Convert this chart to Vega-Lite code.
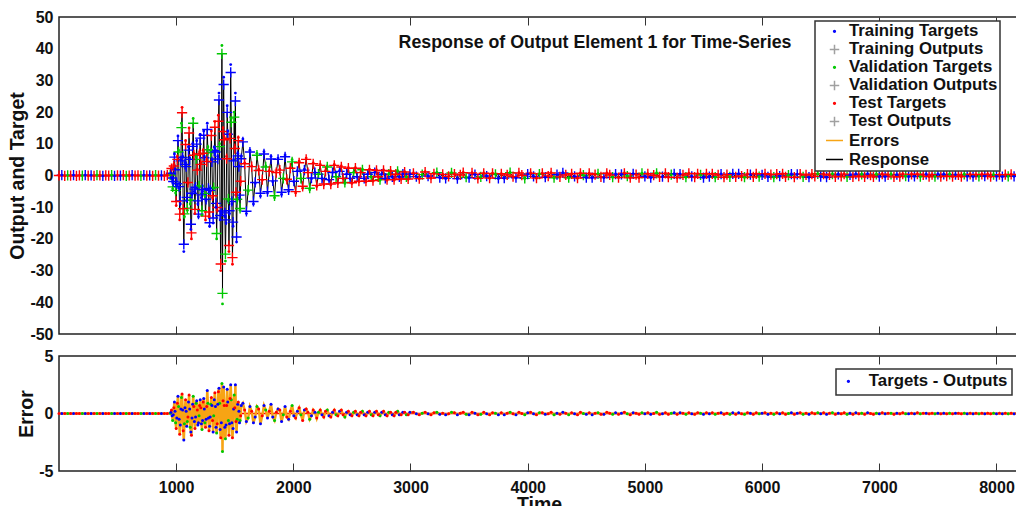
{
"$schema": "https://vega.github.io/schema/vega-lite/v6.json",
"padding": {"left": 7, "top": 8, "right": 0, "bottom": 0},
"background": "white",
"config": {
  "font": "Liberation Sans",
  "view": {"stroke": "#222222", "strokeWidth": 1.5},
  "axis": {"labelFont": "Liberation Sans", "labelFontWeight": "bold", "labelFontSize": 16, "labelColor": "#111111", "titleFont": "Liberation Sans", "titleFontWeight": "bold", "titleFontSize": 19.5, "titleColor": "#111111", "grid": false, "domain": false, "tickColor": "#333333", "labelOverlap": false, "labelExpr": "'' + datum.value"},
  "axisY": {"labelOverlap": false},
  "axisLeft": {"labelOverlap": false},
  "legend": {"labelFont": "Liberation Sans", "labelFontWeight": "bold", "labelFontSize": 16.8, "labelColor": "#111111", "strokeColor": "#333333", "strokeWidth": 1.5, "fillColor": "white", "symbolOpacity": 1, "symbolStrokeWidth": 1.5, "labelLimit": 400},
  "concat": {"spacing": 4}
},
"datasets": {
"leg1": [{"label":"Training Targets"},{"label":"Training Outputs"},{"label":"Validation Targets"},{"label":"Validation Outputs"},{"label":"Test Targets"},{"label":"Test Outputs"},{"label":"Errors"},{"label":"Response"}],
"leg2": [{"label":"Targets - Outputs"}],
"ts": [
{"t":1,"y":0,"o":0,"e":0,"s":"Test"},
{"t":25,"y":0.1,"o":0.09,"e":0.01,"s":"Training"},
{"t":50,"y":-0.1,"o":-0.09,"e":-0.01,"s":"Test"},
{"t":75,"y":0.05,"o":0.04,"e":0.01,"s":"Validation"},
{"t":100,"y":-0.05,"o":-0.04,"e":-0.01,"s":"Test"},
{"t":125,"y":0.1,"o":0.09,"e":0.01,"s":"Training"},
{"t":150,"y":-0.1,"o":-0.09,"e":-0.01,"s":"Test"},
{"t":175,"y":0.05,"o":0.04,"e":0.01,"s":"Test"},
{"t":200,"y":-0.05,"o":-0.04,"e":-0.01,"s":"Validation"},
{"t":225,"y":0.1,"o":0.09,"e":0.01,"s":"Training"},
{"t":250,"y":-0.05,"o":-0.04,"e":-0.01,"s":"Test"},
{"t":275,"y":0.05,"o":0.04,"e":0.01,"s":"Training"},
{"t":300,"y":-0.1,"o":-0.09,"e":-0.01,"s":"Test"},
{"t":325,"y":0.1,"o":0.09,"e":0.01,"s":"Validation"},
{"t":350,"y":0,"o":0,"e":0,"s":"Test"},
{"t":375,"y":-0.1,"o":-0.09,"e":-0.01,"s":"Training"},
{"t":400,"y":0.05,"o":0.04,"e":0.01,"s":"Test"},
{"t":425,"y":-0.05,"o":-0.04,"e":-0.01,"s":"Test"},
{"t":450,"y":0.1,"o":0.09,"e":0.01,"s":"Validation"},
{"t":475,"y":-0.1,"o":-0.09,"e":-0.01,"s":"Training"},
{"t":500,"y":0.05,"o":0.04,"e":0.01,"s":"Test"},
{"t":525,"y":-0.05,"o":-0.04,"e":-0.01,"s":"Training"},
{"t":550,"y":0.1,"o":0.09,"e":0.01,"s":"Test"},
{"t":575,"y":-0.1,"o":-0.09,"e":-0.01,"s":"Validation"},
{"t":600,"y":0,"o":0,"e":0,"s":"Test"},
{"t":625,"y":0.1,"o":0.09,"e":0.01,"s":"Training"},
{"t":650,"y":-0.05,"o":-0.04,"e":-0.01,"s":"Test"},
{"t":675,"y":0.05,"o":0.04,"e":0.01,"s":"Test"},
{"t":700,"y":-0.1,"o":-0.09,"e":-0.01,"s":"Validation"},
{"t":725,"y":0.1,"o":0.09,"e":0.01,"s":"Training"},
{"t":750,"y":-0.05,"o":-0.04,"e":-0.01,"s":"Test"},
{"t":775,"y":0.05,"o":0.04,"e":0.01,"s":"Training"},
{"t":800,"y":-0.1,"o":-0.09,"e":-0.01,"s":"Test"},
{"t":825,"y":0.1,"o":0.09,"e":0.01,"s":"Validation"},
{"t":850,"y":-0.05,"o":-0.04,"e":-0.01,"s":"Test"},
{"t":875,"y":0.05,"o":0.04,"e":0.01,"s":"Training"},
{"t":900,"y":-0.1,"o":-0.09,"e":-0.01,"s":"Test"},
{"t":925,"y":0.1,"o":0.09,"e":0.01,"s":"Test"},
{"t":950,"y":0.2,"o":0.17,"e":0.03,"s":"Validation"},
{"t":956,"y":0.8,"o":0.7,"e":0.1,"s":"Training"},
{"t":961,"y":2.5,"o":2.2,"e":0.3,"s":"Test"},
{"t":966,"y":-1.0,"o":-0.8,"e":-0.2,"s":"Training"},
{"t":971,"y":-4.2,"o":-3.6,"e":-0.6,"s":"Validation"},
{"t":976,"y":-2.0,"o":-1.9,"e":-0.1,"s":"Training"},
{"t":981,"y":3.5,"o":3.0,"e":0.5,"s":"Test"},
{"t":986,"y":6.8,"o":5.8,"e":1.0,"s":"Training"},
{"t":991,"y":2.0,"o":1.8,"e":0.2,"s":"Training"},
{"t":996,"y":-5.5,"o":-4.7,"e":-0.8,"s":"Validation"},
{"t":1001,"y":-9.5,"o":-8.2,"e":-1.3,"s":"Test"},
{"t":1006,"y":-3.0,"o":-2.6,"e":-0.4,"s":"Training"},
{"t":1011,"y":6.0,"o":5.1,"e":0.9,"s":"Test"},
{"t":1016,"y":12.5,"o":11.0,"e":1.5,"s":"Training"},
{"t":1021,"y":8.0,"o":7.4,"e":0.6,"s":"Validation"},
{"t":1026,"y":-4.0,"o":-3.5,"e":-0.5,"s":"Training"},
{"t":1031,"y":-14.0,"o":-12.2,"e":-1.8,"s":"Test"},
{"t":1036,"y":-9.0,"o":-8.0,"e":-1.0,"s":"Training"},
{"t":1041,"y":5.0,"o":4.6,"e":0.4,"s":"Training"},
{"t":1046,"y":16.5,"o":15.1,"e":1.4,"s":"Validation"},
{"t":1051,"y":21.5,"o":19.8,"e":1.7,"s":"Test"},
{"t":1056,"y":6.0,"o":5.7,"e":0.3,"s":"Training"},
{"t":1061,"y":-12.0,"o":-10.5,"e":-1.5,"s":"Test"},
{"t":1066,"y":-24.0,"o":-21.7,"e":-2.3,"s":"Training"},
{"t":1071,"y":-13.0,"o":-12.1,"e":-0.9,"s":"Validation"},
{"t":1076,"y":4.0,"o":3.5,"e":0.5,"s":"Training"},
{"t":1081,"y":11.0,"o":9.8,"e":1.2,"s":"Test"},
{"t":1086,"y":3.0,"o":2.8,"e":0.2,"s":"Training"},
{"t":1091,"y":-8.0,"o":-6.9,"e":-1.1,"s":"Training"},
{"t":1096,"y":-11.0,"o":-10.3,"e":-0.7,"s":"Validation"},
{"t":1101,"y":-2.5,"o":-2.2,"e":-0.3,"s":"Test"},
{"t":1106,"y":9.0,"o":8.0,"e":1.0,"s":"Training"},
{"t":1111,"y":15.0,"o":13.4,"e":1.6,"s":"Test"},
{"t":1116,"y":5.5,"o":5.1,"e":0.4,"s":"Training"},
{"t":1121,"y":-9.0,"o":-7.8,"e":-1.2,"s":"Validation"},
{"t":1126,"y":-17.0,"o":-15.4,"e":-1.6,"s":"Training"},
{"t":1131,"y":-20.0,"o":-18.1,"e":-1.9,"s":"Test"},
{"t":1136,"y":-6.0,"o":-5.6,"e":-0.4,"s":"Training"},
{"t":1141,"y":10.0,"o":9.2,"e":0.8,"s":"Training"},
{"t":1146,"y":18.0,"o":16.5,"e":1.5,"s":"Validation"},
{"t":1151,"y":7.0,"o":6.4,"e":0.6,"s":"Test"},
{"t":1156,"y":-5.0,"o":-4.3,"e":-0.7,"s":"Training"},
{"t":1161,"y":-12.0,"o":-10.7,"e":-1.3,"s":"Test"},
{"t":1166,"y":-4.0,"o":-3.7,"e":-0.3,"s":"Training"},
{"t":1171,"y":6.0,"o":5.1,"e":0.9,"s":"Validation"},
{"t":1176,"y":11.0,"o":9.9,"e":1.1,"s":"Training"},
{"t":1181,"y":2.0,"o":1.7,"e":0.3,"s":"Test"},
{"t":1186,"y":-9.0,"o":-8.0,"e":-1.0,"s":"Training"},
{"t":1191,"y":-13.0,"o":-12.2,"e":-0.8,"s":"Training"},
{"t":1196,"y":-3.5,"o":-3.3,"e":-0.2,"s":"Validation"},
{"t":1201,"y":7.5,"o":6.8,"e":0.7,"s":"Test"},
{"t":1206,"y":13.0,"o":11.8,"e":1.2,"s":"Training"},
{"t":1211,"y":4.0,"o":3.5,"e":0.5,"s":"Test"},
{"t":1216,"y":-7.0,"o":-6.1,"e":-0.9,"s":"Training"},
{"t":1221,"y":-12.5,"o":-11.1,"e":-1.4,"s":"Validation"},
{"t":1226,"y":-5.0,"o":-4.4,"e":-0.6,"s":"Training"},
{"t":1231,"y":8.0,"o":7.0,"e":1.0,"s":"Test"},
{"t":1236,"y":14.0,"o":12.7,"e":1.3,"s":"Training"},
{"t":1241,"y":6.0,"o":5.6,"e":0.4,"s":"Training"},
{"t":1246,"y":-6.5,"o":-5.7,"e":-0.8,"s":"Validation"},
{"t":1251,"y":-14.0,"o":-12.8,"e":-1.2,"s":"Test"},
{"t":1256,"y":-8.0,"o":-7.5,"e":-0.5,"s":"Training"},
{"t":1261,"y":5.0,"o":4.4,"e":0.6,"s":"Test"},
{"t":1266,"y":16.5,"o":14.5,"e":2.0,"s":"Training"},
{"t":1271,"y":9.0,"o":8.1,"e":0.9,"s":"Validation"},
{"t":1276,"y":-4.5,"o":-4.1,"e":-0.4,"s":"Training"},
{"t":1281,"y":-13.0,"o":-11.5,"e":-1.5,"s":"Test"},
{"t":1286,"y":-16.0,"o":-14.9,"e":-1.1,"s":"Training"},
{"t":1291,"y":-5.0,"o":-4.7,"e":-0.3,"s":"Training"},
{"t":1296,"y":8.0,"o":7.2,"e":0.8,"s":"Validation"},
{"t":1301,"y":14.0,"o":12.6,"e":1.4,"s":"Test"},
{"t":1306,"y":5.0,"o":4.3,"e":0.7,"s":"Training"},
{"t":1311,"y":-7.0,"o":-6.4,"e":-0.6,"s":"Test"},
{"t":1316,"y":-15.0,"o":-13.4,"e":-1.6,"s":"Training"},
{"t":1321,"y":-4.0,"o":-3.8,"e":-0.2,"s":"Validation"},
{"t":1326,"y":9.0,"o":7.8,"e":1.2,"s":"Training"},
{"t":1331,"y":17.0,"o":15.2,"e":1.8,"s":"Test"},
{"t":1336,"y":8.0,"o":7.4,"e":0.6,"s":"Training"},
{"t":1341,"y":-10.0,"o":-8.8,"e":-1.2,"s":"Training"},
{"t":1346,"y":-20.0,"o":-18.3,"e":-1.7,"s":"Validation"},
{"t":1351,"y":-11.0,"o":-10.1,"e":-0.9,"s":"Test"},
{"t":1356,"y":6.0,"o":5.2,"e":0.8,"s":"Training"},
{"t":1361,"y":19.0,"o":17.1,"e":1.9,"s":"Test"},
{"t":1366,"y":26.0,"o":23.8,"e":2.2,"s":"Training"},
{"t":1371,"y":10.0,"o":9.1,"e":0.9,"s":"Validation"},
{"t":1376,"y":-14.0,"o":-12.6,"e":-1.4,"s":"Training"},
{"t":1381,"y":-30.0,"o":-27.9,"e":-2.1,"s":"Test"},
{"t":1386,"y":-12.0,"o":-11.2,"e":-0.8,"s":"Training"},
{"t":1391,"y":41.0,"o":38.4,"e":2.6,"s":"Validation"},
{"t":1396,"y":-40.5,"o":-37.2,"e":-3.3,"s":"Validation"},
{"t":1401,"y":15.0,"o":13.9,"e":1.1,"s":"Test"},
{"t":1406,"y":31.0,"o":28.7,"e":2.3,"s":"Training"},
{"t":1411,"y":12.0,"o":11.3,"e":0.7,"s":"Test"},
{"t":1416,"y":-13.0,"o":-11.8,"e":-1.2,"s":"Training"},
{"t":1421,"y":-27.0,"o":-24.8,"e":-2.2,"s":"Validation"},
{"t":1426,"y":-15.0,"o":-14.0,"e":-1.0,"s":"Training"},
{"t":1431,"y":6.0,"o":5.3,"e":0.7,"s":"Test"},
{"t":1436,"y":22.0,"o":19.9,"e":2.1,"s":"Training"},
{"t":1441,"y":14.0,"o":13.0,"e":1.0,"s":"Training"},
{"t":1446,"y":-8.0,"o":-7.4,"e":-0.6,"s":"Validation"},
{"t":1451,"y":-24.0,"o":-22.1,"e":-1.9,"s":"Test"},
{"t":1456,"y":-12.0,"o":-11.1,"e":-0.9,"s":"Training"},
{"t":1461,"y":13.0,"o":11.7,"e":1.3,"s":"Test"},
{"t":1466,"y":35.0,"o":32.5,"e":2.5,"s":"Training"},
{"t":1471,"y":18.0,"o":16.8,"e":1.2,"s":"Validation"},
{"t":1476,"y":-9.0,"o":-8.2,"e":-0.8,"s":"Training"},
{"t":1481,"y":-28.0,"o":-25.9,"e":-2.1,"s":"Test"},
{"t":1486,"y":-16.0,"o":-14.7,"e":-1.3,"s":"Training"},
{"t":1491,"y":5.0,"o":4.6,"e":0.4,"s":"Training"},
{"t":1496,"y":20.0,"o":18.4,"e":1.6,"s":"Validation"},
{"t":1501,"y":9.0,"o":8.5,"e":0.5,"s":"Test"},
{"t":1506,"y":26.0,"o":23.5,"e":2.5,"s":"Training"},
{"t":1511,"y":-6.0,"o":-5.3,"e":-0.7,"s":"Test"},
{"t":1516,"y":-21.0,"o":-19.4,"e":-1.6,"s":"Training"},
{"t":1521,"y":-8.0,"o":-7.5,"e":-0.5,"s":"Validation"},
{"t":1526,"y":7.0,"o":6.2,"e":0.8,"s":"Training"},
{"t":1531,"y":12.0,"o":11.0,"e":1.0,"s":"Test"},
{"t":1536,"y":3.0,"o":2.8,"e":0.2,"s":"Training"},
{"t":1541,"y":-7.0,"o":-6.2,"e":-0.8,"s":"Training"},
{"t":1546,"y":-11.0,"o":-10.4,"e":-0.6,"s":"Validation"},
{"t":1551,"y":-2.0,"o":-1.8,"e":-0.2,"s":"Test"},
{"t":1556,"y":6.0,"o":5.3,"e":0.7,"s":"Training"},
{"t":1570,"y":11.5,"o":10.6,"e":0.9,"s":"Training"},
{"t":1585,"y":4.0,"o":3.7,"e":0.3,"s":"Test"},
{"t":1600,"y":-12.0,"o":-11.3,"e":-0.7,"s":"Training"},
{"t":1615,"y":-5.0,"o":-4.6,"e":-0.4,"s":"Validation"},
{"t":1630,"y":8.0,"o":7.4,"e":0.6,"s":"Training"},
{"t":1645,"y":3.0,"o":2.8,"e":0.2,"s":"Test"},
{"t":1660,"y":-9.0,"o":-8.2,"e":-0.8,"s":"Training"},
{"t":1675,"y":-2.5,"o":-2.2,"e":-0.3,"s":"Training"},
{"t":1690,"y":7.0,"o":6.4,"e":0.6,"s":"Validation"},
{"t":1705,"y":2.0,"o":1.6,"e":0.4,"s":"Test"},
{"t":1720,"y":-6.5,"o":-5.6,"e":-0.9,"s":"Training"},
{"t":1735,"y":-1.5,"o":-1.3,"e":-0.2,"s":"Test"},
{"t":1750,"y":7.5,"o":6.8,"e":0.7,"s":"Training"},
{"t":1765,"y":3.0,"o":2.7,"e":0.3,"s":"Validation"},
{"t":1780,"y":-5.5,"o":-5.1,"e":-0.4,"s":"Training"},
{"t":1795,"y":1.5,"o":1.3,"e":0.2,"s":"Test"},
{"t":1810,"y":6.0,"o":5.2,"e":0.8,"s":"Training"},
{"t":1825,"y":-2.0,"o":-1.7,"e":-0.3,"s":"Training"},
{"t":1840,"y":-7.0,"o":-6.4,"e":-0.6,"s":"Validation"},
{"t":1855,"y":1.0,"o":0.9,"e":0.1,"s":"Test"},
{"t":1870,"y":5.5,"o":5.1,"e":0.4,"s":"Training"},
{"t":1885,"y":2.0,"o":1.7,"e":0.3,"s":"Test"},
{"t":1900,"y":-6.0,"o":-5.3,"e":-0.7,"s":"Training"},
{"t":1915,"y":-1.0,"o":-0.9,"e":-0.1,"s":"Validation"},
{"t":1930,"y":6.5,"o":5.9,"e":0.6,"s":"Training"},
{"t":1945,"y":-1.5,"o":-1.2,"e":-0.3,"s":"Test"},
{"t":1960,"y":-5.0,"o":-4.5,"e":-0.5,"s":"Training"},
{"t":1975,"y":2.5,"o":2.3,"e":0.2,"s":"Test"},
{"t":1990,"y":5.0,"o":4.3,"e":0.7,"s":"Validation"},
{"t":2005,"y":-2.0,"o":-1.8,"e":-0.2,"s":"Training"},
{"t":2020,"y":-5.5,"o":-5.1,"e":-0.4,"s":"Test"},
{"t":2035,"y":1.5,"o":1.3,"e":0.2,"s":"Training"},
{"t":2050,"y":4.5,"o":4.0,"e":0.5,"s":"Test"},
{"t":2065,"y":-1.0,"o":-0.9,"e":-0.1,"s":"Validation"},
{"t":2080,"y":-4.0,"o":-3.4,"e":-0.6,"s":"Test"},
{"t":2095,"y":2.0,"o":1.7,"e":0.3,"s":"Training"},
{"t":2110,"y":5.5,"o":5.1,"e":0.4,"s":"Test"},
{"t":2125,"y":1.0,"o":0.9,"e":0.1,"s":"Test"},
{"t":2140,"y":-4.5,"o":-4.0,"e":-0.5,"s":"Validation"},
{"t":2155,"y":-1.0,"o":-0.8,"e":-0.2,"s":"Training"},
{"t":2170,"y":4.0,"o":3.7,"e":0.3,"s":"Test"},
{"t":2185,"y":1.0,"o":0.9,"e":0.1,"s":"Training"},
{"t":2200,"y":-3.5,"o":-3.1,"e":-0.4,"s":"Test"},
{"t":2215,"y":0.5,"o":0.4,"e":0.1,"s":"Validation"},
{"t":2230,"y":3.5,"o":3.2,"e":0.3,"s":"Test"},
{"t":2245,"y":-1.0,"o":-0.9,"e":-0.1,"s":"Training"},
{"t":2260,"y":-3.0,"o":-2.7,"e":-0.3,"s":"Test"},
{"t":2275,"y":1.5,"o":1.3,"e":0.2,"s":"Test"},
{"t":2290,"y":3.0,"o":2.7,"e":0.3,"s":"Validation"},
{"t":2305,"y":-1.5,"o":-1.3,"e":-0.2,"s":"Training"},
{"t":2320,"y":-3.0,"o":-2.7,"e":-0.3,"s":"Test"},
{"t":2335,"y":1.0,"o":0.9,"e":0.1,"s":"Training"},
{"t":2350,"y":3.5,"o":3.2,"e":0.3,"s":"Test"},
{"t":2365,"y":-0.5,"o":-0.4,"e":-0.1,"s":"Validation"},
{"t":2380,"y":-2.5,"o":-2.3,"e":-0.2,"s":"Test"},
{"t":2395,"y":1.5,"o":1.3,"e":0.2,"s":"Training"},
{"t":2410,"y":3.0,"o":2.7,"e":0.3,"s":"Test"},
{"t":2425,"y":-1.0,"o":-0.9,"e":-0.1,"s":"Test"},
{"t":2440,"y":-2.5,"o":-2.2,"e":-0.3,"s":"Validation"},
{"t":2455,"y":0.5,"o":0.4,"e":0.1,"s":"Training"},
{"t":2470,"y":2.5,"o":2.3,"e":0.2,"s":"Test"},
{"t":2485,"y":-1.0,"o":-0.9,"e":-0.1,"s":"Training"},
{"t":2500,"y":-2.5,"o":-2.3,"e":-0.2,"s":"Test"},
{"t":2515,"y":1.0,"o":0.9,"e":0.1,"s":"Validation"},
{"t":2530,"y":2.5,"o":2.3,"e":0.2,"s":"Test"},
{"t":2545,"y":-0.5,"o":-0.4,"e":-0.1,"s":"Training"},
{"t":2560,"y":-2.0,"o":-1.8,"e":-0.2,"s":"Test"},
{"t":2575,"y":1.0,"o":0.9,"e":0.1,"s":"Test"},
{"t":2590,"y":2.0,"o":1.8,"e":0.2,"s":"Validation"},
{"t":2605,"y":-1.0,"o":-0.9,"e":-0.1,"s":"Training"},
{"t":2620,"y":-2.0,"o":-1.8,"e":-0.2,"s":"Test"},
{"t":2635,"y":0.5,"o":0.4,"e":0.1,"s":"Training"},
{"t":2650,"y":2.0,"o":1.8,"e":0.2,"s":"Test"},
{"t":2665,"y":-0.5,"o":-0.4,"e":-0.1,"s":"Validation"},
{"t":2680,"y":-1.8,"o":-1.6,"e":-0.2,"s":"Test"},
{"t":2695,"y":1.0,"o":0.9,"e":0.1,"s":"Training"},
{"t":2710,"y":1.8,"o":1.6,"e":0.2,"s":"Test"},
{"t":2725,"y":-0.5,"o":-0.4,"e":-0.1,"s":"Test"},
{"t":2740,"y":-1.5,"o":-1.3,"e":-0.2,"s":"Validation"},
{"t":2755,"y":0.5,"o":0.4,"e":0.1,"s":"Training"},
{"t":2770,"y":1.8,"o":1.6,"e":0.2,"s":"Test"},
{"t":2785,"y":-1.0,"o":-0.9,"e":-0.1,"s":"Training"},
{"t":2800,"y":-1.5,"o":-1.3,"e":-0.2,"s":"Test"},
{"t":2815,"y":0.5,"o":0.4,"e":0.1,"s":"Validation"},
{"t":2830,"y":1.5,"o":1.4,"e":0.1,"s":"Test"},
{"t":2845,"y":-0.5,"o":-0.4,"e":-0.1,"s":"Training"},
{"t":2860,"y":-1.5,"o":-1.3,"e":-0.2,"s":"Test"},
{"t":2875,"y":0.5,"o":0.4,"e":0.1,"s":"Test"},
{"t":2890,"y":1.5,"o":1.3,"e":0.2,"s":"Validation"},
{"t":2905,"y":-0.5,"o":-0.4,"e":-0.1,"s":"Training"},
{"t":2920,"y":-1.2,"o":-1.1,"e":-0.1,"s":"Test"},
{"t":2935,"y":0.5,"o":0.4,"e":0.1,"s":"Training"},
{"t":2950,"y":1.2,"o":1.1,"e":0.1,"s":"Test"},
{"t":2965,"y":-0.5,"o":-0.4,"e":-0.1,"s":"Validation"},
{"t":2980,"y":-1.2,"o":-1.1,"e":-0.1,"s":"Test"},
{"t":2995,"y":0.5,"o":0.4,"e":0.1,"s":"Training"},
{"t":3025,"y":0.8,"o":0.7,"e":0.1,"s":"Test"},
{"t":3050,"y":-0.4,"o":-0.37,"e":-0.03,"s":"Training"},
{"t":3075,"y":-1.1,"o":-1.0,"e":-0.1,"s":"Test"},
{"t":3100,"y":0.3,"o":0.27,"e":0.03,"s":"Validation"},
{"t":3125,"y":1.2,"o":1.1,"e":0.1,"s":"Test"},
{"t":3150,"y":-0.2,"o":-0.17,"e":-0.03,"s":"Training"},
{"t":3175,"y":-0.9,"o":-0.8,"e":-0.1,"s":"Test"},
{"t":3200,"y":0.6,"o":0.54,"e":0.06,"s":"Test"},
{"t":3225,"y":1.0,"o":0.9,"e":0.1,"s":"Validation"},
{"t":3250,"y":-0.7,"o":-0.64,"e":-0.06,"s":"Training"},
{"t":3275,"y":0.4,"o":0.37,"e":0.03,"s":"Test"},
{"t":3300,"y":-1.0,"o":-0.9,"e":-0.1,"s":"Training"},
{"t":3325,"y":-0.3,"o":-0.27,"e":-0.03,"s":"Test"},
{"t":3350,"y":0.9,"o":0.8,"e":0.1,"s":"Validation"},
{"t":3375,"y":0.5,"o":0.44,"e":0.06,"s":"Test"},
{"t":3400,"y":-1.1,"o":-1.0,"e":-0.1,"s":"Training"},
{"t":3425,"y":0.2,"o":0.17,"e":0.03,"s":"Test"},
{"t":3450,"y":1.0,"o":0.9,"e":0.1,"s":"Test"},
{"t":3475,"y":-0.6,"o":-0.54,"e":-0.06,"s":"Validation"},
{"t":3500,"y":-0.8,"o":-0.7,"e":-0.1,"s":"Training"},
{"t":3525,"y":0.9,"o":0.8,"e":0.1,"s":"Test"},
{"t":3550,"y":0.3,"o":0.27,"e":0.03,"s":"Training"},
{"t":3575,"y":-1.0,"o":-0.9,"e":-0.1,"s":"Test"},
{"t":3600,"y":-0.5,"o":-0.44,"e":-0.06,"s":"Validation"},
{"t":3625,"y":0.8,"o":0.7,"e":0.1,"s":"Test"},
{"t":3650,"y":-0.2,"o":-0.17,"e":-0.03,"s":"Training"},
{"t":3675,"y":-0.9,"o":-0.8,"e":-0.1,"s":"Test"},
{"t":3700,"y":0.7,"o":0.64,"e":0.06,"s":"Test"},
{"t":3725,"y":0.4,"o":0.37,"e":0.03,"s":"Validation"},
{"t":3750,"y":-1.0,"o":-0.9,"e":-0.1,"s":"Training"},
{"t":3775,"y":0.6,"o":0.54,"e":0.06,"s":"Test"},
{"t":3800,"y":-0.9,"o":-0.8,"e":-0.1,"s":"Training"},
{"t":3825,"y":0.2,"o":0.17,"e":0.03,"s":"Test"},
{"t":3850,"y":1.0,"o":0.9,"e":0.1,"s":"Validation"},
{"t":3875,"y":-0.4,"o":-0.37,"e":-0.03,"s":"Test"},
{"t":3900,"y":-0.8,"o":-0.7,"e":-0.1,"s":"Training"},
{"t":3925,"y":0.9,"o":0.8,"e":0.1,"s":"Test"},
{"t":3950,"y":0.1,"o":0.09,"e":0.01,"s":"Test"},
{"t":3975,"y":-1.0,"o":-0.9,"e":-0.1,"s":"Validation"},
{"t":4000,"y":0.5,"o":0.44,"e":0.06,"s":"Training"},
{"t":4025,"y":0.8,"o":0.7,"e":0.1,"s":"Test"},
{"t":4050,"y":-0.3,"o":-0.27,"e":-0.03,"s":"Training"},
{"t":4075,"y":-0.9,"o":-0.8,"e":-0.1,"s":"Test"},
{"t":4100,"y":0.5,"o":0.44,"e":0.06,"s":"Validation"},
{"t":4125,"y":0.7,"o":0.64,"e":0.06,"s":"Test"},
{"t":4150,"y":-0.6,"o":-0.54,"e":-0.06,"s":"Training"},
{"t":4175,"y":-0.2,"o":-0.17,"e":-0.03,"s":"Test"},
{"t":4200,"y":0.9,"o":0.8,"e":0.1,"s":"Test"},
{"t":4225,"y":-0.8,"o":-0.7,"e":-0.1,"s":"Validation"},
{"t":4250,"y":0.3,"o":0.27,"e":0.03,"s":"Training"},
{"t":4275,"y":-0.5,"o":-0.44,"e":-0.06,"s":"Test"},
{"t":4300,"y":0.9,"o":0.8,"e":0.1,"s":"Training"},
{"t":4325,"y":0.2,"o":0.17,"e":0.03,"s":"Test"},
{"t":4350,"y":-0.8,"o":-0.7,"e":-0.1,"s":"Validation"},
{"t":4375,"y":0.6,"o":0.54,"e":0.06,"s":"Test"},
{"t":4400,"y":-0.3,"o":-0.27,"e":-0.03,"s":"Training"},
{"t":4425,"y":-0.9,"o":-0.8,"e":-0.1,"s":"Test"},
{"t":4450,"y":0.8,"o":0.7,"e":0.1,"s":"Test"},
{"t":4475,"y":0.1,"o":0.09,"e":0.01,"s":"Validation"},
{"t":4500,"y":-0.7,"o":-0.64,"e":-0.06,"s":"Training"},
{"t":4525,"y":0.7,"o":0.64,"e":0.06,"s":"Test"},
{"t":4550,"y":-0.8,"o":-0.7,"e":-0.1,"s":"Training"},
{"t":4575,"y":0.3,"o":0.27,"e":0.03,"s":"Test"},
{"t":4600,"y":0.6,"o":0.54,"e":0.06,"s":"Validation"},
{"t":4625,"y":-0.5,"o":-0.44,"e":-0.06,"s":"Test"},
{"t":4650,"y":-0.7,"o":-0.64,"e":-0.06,"s":"Training"},
{"t":4675,"y":0.8,"o":0.7,"e":0.1,"s":"Test"},
{"t":4700,"y":0.2,"o":0.17,"e":0.03,"s":"Test"},
{"t":4725,"y":-0.6,"o":-0.54,"e":-0.06,"s":"Validation"},
{"t":4750,"y":0.5,"o":0.44,"e":0.06,"s":"Training"},
{"t":4775,"y":-0.7,"o":-0.64,"e":-0.06,"s":"Test"},
{"t":4800,"y":0.4,"o":0.37,"e":0.03,"s":"Training"},
{"t":4825,"y":0.8,"o":0.7,"e":0.1,"s":"Test"},
{"t":4850,"y":-0.2,"o":-0.17,"e":-0.03,"s":"Validation"},
{"t":4875,"y":-0.8,"o":-0.7,"e":-0.1,"s":"Test"},
{"t":4900,"y":0.6,"o":0.54,"e":0.06,"s":"Training"},
{"t":4925,"y":0.3,"o":0.27,"e":0.03,"s":"Test"},
{"t":4950,"y":-0.7,"o":-0.64,"e":-0.06,"s":"Test"},
{"t":4975,"y":0.7,"o":0.64,"e":0.06,"s":"Validation"},
{"t":5000,"y":-0.3,"o":-0.27,"e":-0.03,"s":"Training"},
{"t":5025,"y":0.6,"o":0.54,"e":0.06,"s":"Test"},
{"t":5050,"y":-0.7,"o":-0.64,"e":-0.06,"s":"Training"},
{"t":5075,"y":0.1,"o":0.09,"e":0.01,"s":"Test"},
{"t":5100,"y":0.8,"o":0.7,"e":0.1,"s":"Validation"},
{"t":5125,"y":-0.5,"o":-0.44,"e":-0.06,"s":"Test"},
{"t":5150,"y":-0.4,"o":-0.37,"e":-0.03,"s":"Training"},
{"t":5175,"y":0.7,"o":0.64,"e":0.06,"s":"Test"},
{"t":5200,"y":-0.6,"o":-0.54,"e":-0.06,"s":"Test"},
{"t":5225,"y":0.3,"o":0.27,"e":0.03,"s":"Validation"},
{"t":5250,"y":0.6,"o":0.54,"e":0.06,"s":"Training"},
{"t":5275,"y":-0.7,"o":-0.64,"e":-0.06,"s":"Test"},
{"t":5300,"y":0.5,"o":0.44,"e":0.06,"s":"Training"},
{"t":5325,"y":0.2,"o":0.17,"e":0.03,"s":"Test"},
{"t":5350,"y":-0.6,"o":-0.54,"e":-0.06,"s":"Validation"},
{"t":5375,"y":0.7,"o":0.64,"e":0.06,"s":"Test"},
{"t":5400,"y":-0.3,"o":-0.27,"e":-0.03,"s":"Training"},
{"t":5425,"y":-0.6,"o":-0.54,"e":-0.06,"s":"Test"},
{"t":5450,"y":0.6,"o":0.54,"e":0.06,"s":"Test"},
{"t":5475,"y":0.2,"o":0.17,"e":0.03,"s":"Validation"},
{"t":5500,"y":-0.7,"o":-0.64,"e":-0.06,"s":"Training"},
{"t":5525,"y":0.6,"o":0.54,"e":0.06,"s":"Test"},
{"t":5550,"y":-0.4,"o":-0.37,"e":-0.03,"s":"Training"},
{"t":5575,"y":0.6,"o":0.54,"e":0.06,"s":"Test"},
{"t":5600,"y":-0.6,"o":-0.54,"e":-0.06,"s":"Validation"},
{"t":5625,"y":0.2,"o":0.17,"e":0.03,"s":"Test"},
{"t":5650,"y":0.5,"o":0.44,"e":0.06,"s":"Training"},
{"t":5675,"y":-0.6,"o":-0.54,"e":-0.06,"s":"Test"},
{"t":5700,"y":0.3,"o":0.27,"e":0.03,"s":"Test"},
{"t":5725,"y":-0.5,"o":-0.44,"e":-0.06,"s":"Validation"},
{"t":5750,"y":0.6,"o":0.54,"e":0.06,"s":"Training"},
{"t":5775,"y":-0.5,"o":-0.44,"e":-0.06,"s":"Test"},
{"t":5800,"y":0.6,"o":0.54,"e":0.06,"s":"Training"},
{"t":5825,"y":-0.2,"o":-0.17,"e":-0.03,"s":"Test"},
{"t":5850,"y":-0.6,"o":-0.54,"e":-0.06,"s":"Validation"},
{"t":5875,"y":0.5,"o":0.44,"e":0.06,"s":"Test"},
{"t":5900,"y":0.3,"o":0.27,"e":0.03,"s":"Training"},
{"t":5925,"y":-0.5,"o":-0.44,"e":-0.06,"s":"Test"},
{"t":5950,"y":0.6,"o":0.54,"e":0.06,"s":"Test"},
{"t":5975,"y":-0.4,"o":-0.37,"e":-0.03,"s":"Validation"},
{"t":6000,"y":0.2,"o":0.17,"e":0.03,"s":"Training"},
{"t":6025,"y":0.6,"o":0.54,"e":0.06,"s":"Test"},
{"t":6050,"y":-0.5,"o":-0.44,"e":-0.06,"s":"Training"},
{"t":6075,"y":0.3,"o":0.27,"e":0.03,"s":"Test"},
{"t":6100,"y":-0.6,"o":-0.54,"e":-0.06,"s":"Validation"},
{"t":6125,"y":0.5,"o":0.44,"e":0.06,"s":"Test"},
{"t":6150,"y":-0.2,"o":-0.17,"e":-0.03,"s":"Training"},
{"t":6175,"y":0.6,"o":0.54,"e":0.06,"s":"Test"},
{"t":6200,"y":-0.5,"o":-0.44,"e":-0.06,"s":"Test"},
{"t":6225,"y":0.1,"o":0.09,"e":0.01,"s":"Validation"},
{"t":6250,"y":0.5,"o":0.44,"e":0.06,"s":"Training"},
{"t":6275,"y":-0.6,"o":-0.54,"e":-0.06,"s":"Test"},
{"t":6300,"y":0.4,"o":0.37,"e":0.03,"s":"Training"},
{"t":6325,"y":0.5,"o":0.44,"e":0.06,"s":"Test"},
{"t":6350,"y":-0.5,"o":-0.44,"e":-0.06,"s":"Validation"},
{"t":6375,"y":0.2,"o":0.17,"e":0.03,"s":"Test"},
{"t":6400,"y":-0.6,"o":-0.54,"e":-0.06,"s":"Training"},
{"t":6425,"y":0.5,"o":0.44,"e":0.06,"s":"Test"},
{"t":6450,"y":-0.3,"o":-0.27,"e":-0.03,"s":"Test"},
{"t":6475,"y":0.6,"o":0.54,"e":0.06,"s":"Validation"},
{"t":6500,"y":-0.4,"o":-0.37,"e":-0.03,"s":"Training"},
{"t":6525,"y":0.5,"o":0.44,"e":0.06,"s":"Test"},
{"t":6550,"y":-0.6,"o":-0.54,"e":-0.06,"s":"Training"},
{"t":6575,"y":0.2,"o":0.17,"e":0.03,"s":"Test"},
{"t":6600,"y":0.5,"o":0.44,"e":0.06,"s":"Validation"},
{"t":6625,"y":-0.5,"o":-0.44,"e":-0.06,"s":"Test"},
{"t":6650,"y":0.4,"o":0.37,"e":0.03,"s":"Training"},
{"t":6675,"y":-0.3,"o":-0.27,"e":-0.03,"s":"Test"},
{"t":6700,"y":0.5,"o":0.44,"e":0.06,"s":"Test"},
{"t":6725,"y":-0.5,"o":-0.44,"e":-0.06,"s":"Validation"},
{"t":6750,"y":0.2,"o":0.17,"e":0.03,"s":"Training"},
{"t":6775,"y":-0.5,"o":-0.44,"e":-0.06,"s":"Test"},
{"t":6800,"y":0.5,"o":0.44,"e":0.06,"s":"Training"},
{"t":6825,"y":-0.2,"o":-0.17,"e":-0.03,"s":"Test"},
{"t":6850,"y":0.4,"o":0.37,"e":0.03,"s":"Validation"},
{"t":6875,"y":-0.5,"o":-0.44,"e":-0.06,"s":"Test"},
{"t":6900,"y":0.5,"o":0.44,"e":0.06,"s":"Training"},
{"t":6925,"y":0.1,"o":0.09,"e":0.01,"s":"Test"},
{"t":6950,"y":-0.5,"o":-0.44,"e":-0.06,"s":"Test"},
{"t":6975,"y":0.4,"o":0.37,"e":0.03,"s":"Validation"},
{"t":7000,"y":-0.4,"o":-0.37,"e":-0.03,"s":"Training"},
{"t":7025,"y":0.5,"o":0.44,"e":0.06,"s":"Test"},
{"t":7050,"y":-0.4,"o":-0.37,"e":-0.03,"s":"Training"},
{"t":7075,"y":0.2,"o":0.17,"e":0.03,"s":"Test"},
{"t":7100,"y":0.4,"o":0.37,"e":0.03,"s":"Validation"},
{"t":7125,"y":-0.5,"o":-0.44,"e":-0.06,"s":"Test"},
{"t":7150,"y":0.3,"o":0.27,"e":0.03,"s":"Training"},
{"t":7175,"y":-0.4,"o":-0.37,"e":-0.03,"s":"Test"},
{"t":7200,"y":0.5,"o":0.44,"e":0.06,"s":"Test"},
{"t":7225,"y":-0.2,"o":-0.17,"e":-0.03,"s":"Validation"},
{"t":7250,"y":-0.4,"o":-0.37,"e":-0.03,"s":"Training"},
{"t":7275,"y":0.4,"o":0.37,"e":0.03,"s":"Test"},
{"t":7300,"y":-0.3,"o":-0.27,"e":-0.03,"s":"Training"},
{"t":7325,"y":0.5,"o":0.44,"e":0.06,"s":"Test"},
{"t":7350,"y":-0.4,"o":-0.37,"e":-0.03,"s":"Validation"},
{"t":7375,"y":0.2,"o":0.17,"e":0.03,"s":"Test"},
{"t":7400,"y":0.4,"o":0.37,"e":0.03,"s":"Training"},
{"t":7425,"y":-0.4,"o":-0.37,"e":-0.03,"s":"Test"},
{"t":7450,"y":0.3,"o":0.27,"e":0.03,"s":"Test"},
{"t":7475,"y":-0.4,"o":-0.37,"e":-0.03,"s":"Validation"},
{"t":7500,"y":0.4,"o":0.37,"e":0.03,"s":"Training"},
{"t":7525,"y":-0.4,"o":-0.37,"e":-0.03,"s":"Test"},
{"t":7550,"y":0.4,"o":0.37,"e":0.03,"s":"Training"},
{"t":7575,"y":-0.2,"o":-0.17,"e":-0.03,"s":"Test"},
{"t":7600,"y":0.4,"o":0.37,"e":0.03,"s":"Validation"},
{"t":7625,"y":-0.4,"o":-0.37,"e":-0.03,"s":"Test"},
{"t":7650,"y":0.3,"o":0.27,"e":0.03,"s":"Training"},
{"t":7675,"y":0.2,"o":0.17,"e":0.03,"s":"Test"},
{"t":7700,"y":-0.4,"o":-0.37,"e":-0.03,"s":"Test"},
{"t":7725,"y":0.4,"o":0.37,"e":0.03,"s":"Validation"},
{"t":7750,"y":-0.3,"o":-0.27,"e":-0.03,"s":"Training"},
{"t":7775,"y":0.4,"o":0.37,"e":0.03,"s":"Test"},
{"t":7800,"y":-0.4,"o":-0.37,"e":-0.03,"s":"Training"},
{"t":7825,"y":0.3,"o":0.27,"e":0.03,"s":"Test"},
{"t":7850,"y":-0.3,"o":-0.27,"e":-0.03,"s":"Validation"},
{"t":7875,"y":0.4,"o":0.37,"e":0.03,"s":"Test"},
{"t":7900,"y":-0.2,"o":-0.17,"e":-0.03,"s":"Training"},
{"t":7925,"y":0.4,"o":0.37,"e":0.03,"s":"Test"},
{"t":7950,"y":-0.4,"o":-0.37,"e":-0.03,"s":"Test"},
{"t":7975,"y":0.3,"o":0.27,"e":0.03,"s":"Validation"},
{"t":8000,"y":-0.3,"o":-0.27,"e":-0.03,"s":"Training"},
{"t":8025,"y":0.3,"o":0.27,"e":0.03,"s":"Test"},
{"t":8050,"y":-0.4,"o":-0.37,"e":-0.03,"s":"Training"},
{"t":8075,"y":0.3,"o":0.27,"e":0.03,"s":"Test"},
{"t":8100,"y":-0.3,"o":-0.27,"e":-0.03,"s":"Validation"},
{"t":8125,"y":0.4,"o":0.37,"e":0.03,"s":"Test"},
{"t":8150,"y":-0.3,"o":-0.27,"e":-0.03,"s":"Training"},
{"t":8175,"y":0.3,"o":0.27,"e":0.03,"s":"Test"},
{"t":8190,"y":0.2,"o":0.17,"e":0.03,"s":"Test"}
]
},
"vconcat": [
{
  "width": 960, "height": 317,
  "title": {"text": "Response of Output Element 1 for Time-Series", "anchor": "middle", "frame": "group", "dx": 56, "offset": -43, "font": "Liberation Sans", "fontWeight": "bold", "fontSize": 17.8, "color": "#111111"},
  "layer": [
    {"data": {"name": "ts"}, "mark": {"type": "line", "color": "#000000", "strokeWidth": 1},
     "encoding": {
       "x": {"field": "t", "type": "quantitative", "scale": {"domain": [1, 8192], "nice": false, "zero": false}, "axis": {"orient": "top", "labels": false, "tickSize": -8, "values": [1000,2000,3000,4000,5000,6000,7000,8000], "title": null}},
       "y": {"field": "o", "type": "quantitative", "scale": {"domain": [-50, 50], "nice": false}, "axis": {"values": [-50,-40,-30,-20,-10,0,10,20,30,40,50], "ticks": false, "labelPadding": 6, "labelOverlap": false, "title": "Output and Target", "titlePadding": 2}}
     }},
    {"data": {"name": "ts"}, "mark": {"type": "point", "shape": "M-1,0H1M0,-1V1", "size": 105, "strokeWidth": 1.4, "filled": false, "opacity": 1},
     "encoding": {
       "x": {"field": "t", "type": "quantitative", "axis": {"orient": "bottom", "labels": false, "tickSize": -8, "values": [1000,2000,3000,4000,5000,6000,7000,8000], "title": null}},
       "y": {"field": "o", "type": "quantitative", "axis": {"values": [-50,-40,-30,-20,-10,0,10,20,30,40,50], "ticks": false, "labelPadding": 6, "labelOverlap": false, "title": "Output and Target", "titlePadding": 2}},
       "stroke": {"field": "s", "type": "nominal", "scale": {"domain": ["Training", "Validation", "Test"], "range": ["#0000ff", "#00c800", "#ff0000"]}, "legend": null},
       "order": {"field": "s", "sort": "descending"}
     }},
    {"data": {"name": "ts"}, "mark": {"type": "point", "shape": "circle", "size": 8, "filled": true, "opacity": 1},
     "encoding": {
       "x": {"field": "t", "type": "quantitative", "axis": null},
       "y": {"field": "y", "type": "quantitative", "axis": {"values": [-50,-40,-30,-20,-10,0,10,20,30,40,50], "ticks": false, "labelPadding": 6, "labelOverlap": false, "title": "Output and Target", "titlePadding": 2}},
       "fill": {"field": "s", "type": "nominal", "scale": {"domain": ["Training", "Validation", "Test"], "range": ["#0000ff", "#00c800", "#ff0000"]}, "legend": null},
       "order": {"field": "s", "sort": "descending"}
     }},
    {"data": {"name": "leg1"}, "mark": {"type": "point", "filled": false, "opacity": 0, "strokeWidth": 1.5},
     "encoding": {
       "color": {"field": "label", "type": "nominal", "scale": {"domain": ["Training Targets","Training Outputs","Validation Targets","Validation Outputs","Test Targets","Test Outputs","Errors","Response"], "range": ["#0000ff","#a0a0a0","#00c800","#a0a0a0","#ff0000","#a0a0a0","#f7a414","#000000"]},
                 "legend": {"orient": "none", "legendX": 756, "legendY": 4, "title": null, "padding": 2, "rowPadding": 0, "labelOffset": 5, "symbolOffset": 8}},
       "shape": {"field": "label", "type": "nominal", "scale": {"domain": ["Training Targets","Training Outputs","Validation Targets","Validation Outputs","Test Targets","Test Outputs","Errors","Response"], "range": ["circle","M-1,0H1M0,-1V1","circle","M-1,0H1M0,-1V1","circle","M-1,0H1M0,-1V1","M-1,0H1","M-1,0H1"]},
                 "legend": {"orient": "none", "legendX": 756, "legendY": 4, "title": null, "padding": 2, "rowPadding": 0, "labelOffset": 5, "symbolOffset": 8}},
       "size": {"field": "label", "type": "nominal", "scale": {"type": "ordinal", "domain": ["Training Targets","Training Outputs","Validation Targets","Validation Outputs","Test Targets","Test Outputs","Errors","Response"], "range": [3, 90, 3, 90, 3, 90, 289, 289]},
                 "legend": {"orient": "none", "legendX": 756, "legendY": 4, "title": null, "padding": 2, "rowPadding": 0, "labelOffset": 5, "symbolOffset": 8}}
     }}
  ],
  "resolve": {"axis": {"x": "independent"}, "scale": {"color": "independent", "shape": "independent", "size": "independent"}}
},
{
  "width": 960, "height": 115,
  "layer": [
    {"data": {"values": [{"zero": 0}]}, "mark": {"type": "rule", "color": "#ff0000", "strokeWidth": 1.5},
     "encoding": {"y": {"field": "zero", "type": "quantitative", "scale": {"domain": [-5, 5], "nice": false}, "axis": {"values": [-5, 0, 5], "ticks": false, "labelPadding": 6, "labelOverlap": false, "title": "Error", "titlePadding": 2}}}},
    {"data": {"name": "ts"}, "mark": {"type": "line", "color": "#f7a414", "strokeWidth": 2.5},
     "encoding": {
       "x": {"field": "t", "type": "quantitative", "scale": {"domain": [1, 8192], "nice": false, "zero": false}, "axis": {"orient": "top", "labels": false, "tickSize": -8, "values": [1000,2000,3000,4000,5000,6000,7000,8000], "title": null}},
       "y": {"field": "e", "type": "quantitative", "axis": {"values": [-5, 0, 5], "ticks": false, "labelPadding": 6, "labelOverlap": false, "title": "Error", "titlePadding": 2}}
     }},
    {"data": {"name": "ts"}, "mark": {"type": "point", "shape": "circle", "size": 9, "filled": true, "opacity": 1},
     "encoding": {
       "x": {"field": "t", "type": "quantitative", "axis": {"orient": "bottom", "tickSize": -8, "labelPadding": 16, "values": [1000,2000,3000,4000,5000,6000,7000,8000], "title": "Time", "titlePadding": 0}},
       "y": {"field": "e", "type": "quantitative", "axis": {"values": [-5, 0, 5], "ticks": false, "labelPadding": 6, "labelOverlap": false, "title": "Error", "titlePadding": 2}},
       "fill": {"field": "s", "type": "nominal", "scale": {"domain": ["Training", "Validation", "Test"], "range": ["#0000ff", "#00c800", "#ff0000"]}, "legend": null},
       "order": {"field": "s", "sort": "descending"}
     }},
    {"data": {"name": "leg2"}, "mark": {"type": "point", "filled": false, "opacity": 0, "strokeWidth": 1.5},
     "encoding": {
       "color": {"field": "label", "type": "nominal", "scale": {"domain": ["Targets - Outputs"], "range": ["#0000ff"]},
                 "legend": {"orient": "none", "legendX": 777, "legendY": 13, "title": null, "padding": 4, "symbolSize": 3, "symbolType": "circle", "labelOffset": 12}}
     }}
  ],
  "resolve": {"axis": {"x": "independent"}}
}
],
"resolve": {"scale": {"color": "independent", "shape": "independent", "size": "independent", "fill": "independent", "stroke": "independent"}, "legend": {"color": "independent", "shape": "independent", "size": "independent"}}
}
